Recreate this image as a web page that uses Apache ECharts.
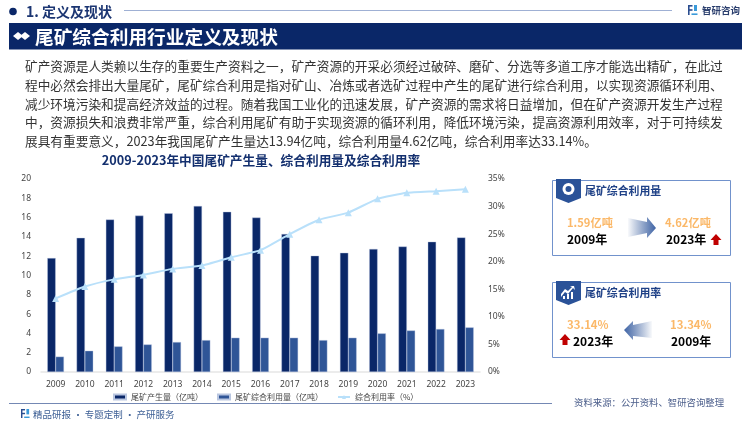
<!DOCTYPE html>
<html><head><meta charset="utf-8">
<style>html,body{margin:0;padding:0;background:#fff}#c{width:750px;height:421px}</style>
<script src="https://cdn.jsdelivr.net/npm/echarts@6/dist/echarts.min.js"></script>
</head><body><div id="c"></div>
<script>
const years=['2009','2010','2011','2012','2013','2014','2015','2016','2017','2018','2019','2020','2021','2022','2023'];
const output=[11.8,13.9,15.8,16.2,16.45,17.2,16.6,16.0,14.3,12.05,12.35,12.75,13.0,13.5,13.94];
const used=[1.59,2.2,2.65,2.85,3.1,3.3,3.55,3.55,3.55,3.3,3.55,4.0,4.3,4.45,4.62];
const rate=[13.34,15.5,16.8,17.6,18.7,19.3,20.8,22.1,25.0,27.6,28.9,31.4,32.5,32.8,33.14];
const seriesNames=['尾矿产生量（亿吨）','尾矿综合利用量（亿吨）','综合利用率（%）'];
const paragraph=[
'矿产资源是人类赖以生存的重要生产资料之一，矿产资源的开采必须经过破碎、磨矿、分选等多道工序才能选出精矿，在此过',
'程中必然会排出大量尾矿，尾矿综合利用是指对矿山、冶炼或者选矿过程中产生的尾矿进行综合利用，以实现资源循环利用、',
'减少环境污染和提高经济效益的过程。随着我国工业化的迅速发展，矿产资源的需求将日益增加，但在矿产资源开发生产过程',
'中，资源损失和浪费非常严重，综合利用尾矿有助于实现资源的循环利用，降低环境污染，提高资源利用效率，对于可持续发',
'展具有重要意义，2023年我国尾矿产生量达13.94亿吨，综合利用量4.62亿吨，综合利用率达33.14%。'];
const FF='"Noto Sans CJK SC","Noto Sans",sans-serif';
const NAVY='#0a2768';
function T(text,x,y,size,fill,bold,align){return {type:'text',silent:true,style:{text,x,y,fill,font:(bold?'bold ':'')+size+'px '+FF,textVerticalAlign:'middle',textAlign:align||'left'}};}
function R(x,y,w,h,fill,stroke){return {type:'rect',silent:true,shape:{x,y,width:w,height:h},style:{fill:fill||'none',stroke:stroke||null,lineWidth:stroke?1:0}};}
function P(points,fill){return {type:'polygon',silent:true,shape:{points},style:{fill}};}
function L(x1,y1,x2,y2,stroke,w){return {type:'line',silent:true,shape:{x1,y1,x2,y2},style:{stroke,lineWidth:w||1}};}
function logo(x,y,s){return [R(x,y,s*0.45,s*0.16,'#2a4d8f'),R(x,y,s*0.16,s,'#2a4d8f'),R(x,y+s*0.42,s*0.45,s*0.16,'#2a4d8f'),R(x+s*0.6,y,s*0.3,s*0.6,'#3a9ad9'),R(x+s*0.35,y+s*0.84,s*0.6,s*0.16,'#3a9ad9')];}
function grad(dir){return {type:'linear',x:dir>0?0:1,y:0,x2:dir>0?1:0,y2:0,colorStops:[{offset:0,color:'rgba(47,85,151,0.03)'},{offset:1,color:'#3f64a6'}]};}
function badge(x,y){return P([[x,y],[x+25,y],[x+25,y+19],[x+12.5,y+24],[x,y+19]],'#2a5298');}
function redUp(x,y){return P([[x+5,y],[x+10.5,y+6],[x+7.5,y+6],[x+7.5,y+11],[x+2.5,y+11],[x+2.5,y+6],[x-0.5,y+6]],'#c00000');}

const g=[
 {type:'circle',silent:true,shape:{cx:13,cy:11.5,r:3.8},style:{fill:NAVY}},
 T('1. 定义及现状',26,11.5,14,'#1b3572',true),
 L(124,10.5,672,10.5,'#9fb0d4',1.2),
 ...logo(688,5,10),
 T('智研咨询',702,10.5,9.5,'#2b3f6e',true),
 R(9,23,733,26.5,NAVY),
 P([[13,36],[18,32],[23,36],[18,40]],'#fff'),P([[20,36],[25,32],[30,36],[25,40]],'#fff'),
 T('尾矿综合利用行业定义及现状',35,36.5,18.7,'#fff',true),
 T('2009-2023年中国尾矿产生量、综合利用量及综合利用率',261,160,12.7,'#14306f',true,'center'),
 L(9,403.5,552,403.5,'#7488b4',1),
 ...logo(21,409,9),
 T('精品研报 · 专题定制 · 产研服务',33,414,9.5,'#3d5f95',false),
 T('资料来源：公开资料、智研咨询整理',574,402.5,9.4,'#4a5d8a',false),
 // card 1
 R(552.5,180.5,178,75,'#fff','#7192cc'),
 badge(556,179),
 {type:'circle',silent:true,shape:{cx:568.5,cy:189,r:6},style:{fill:'#fff'}},
 {type:'circle',silent:true,shape:{cx:568.5,cy:189,r:3},style:{fill:'#2a5298'}},
 T('尾矿综合利用量',585,190.5,10.9,'#1f4187',true),
 T('1.59亿吨',567,222.5,11.2,'#fbb868',true),
 T('2009年',567,239,12,'#000',true),
 P([[628,218],[647,222],[647,217],[656,228],[647,238],[647,233],[628,237]],grad(1)),
 T('4.62亿吨',665,222.5,11.2,'#fbb868',true),
 T('2023年',666,239,12,'#000',true),
 redUp(711,234),
 // card 2
 R(552.5,282.5,178,75,'#fff','#7192cc'),
 badge(556,281),
 P([[561,297],[565,292],[568,294],[573,288],[575,290],[574,286],[570,286],[572,287],[568,291],[565,289],[561,294]],'#fff'),
 R(563,296,2,3,'#fff'),R(567,294,2,5,'#fff'),R(571,292,2,7,'#fff'),
 T('尾矿综合利用率',585,292.5,10.9,'#1f4187',true),
 T('33.14%',567,325,11.4,'#fbb868',true),
 redUp(560,334),
 T('2023年',573,341,12,'#000',true),
 P([[652,321],[633,325],[633,321],[624,330],[633,340],[633,336],[652,338]],grad(-1)),
 T('13.34%',670,325,11.4,'#fbb868',true),
 T('2009年',671,341,12,'#000',true)
];
paragraph.forEach((s,i)=>g.push(T(s,25,66.5+i*18.6,12.7,'#333',false)));

const chart=echarts.init(document.getElementById('c'));
const axLabel={fontSize:8.5,color:'#444',fontFamily:'"Noto Sans",sans-serif'};
chart.setOption({
 animation:false,
 graphic:{elements:g},
 grid:{left:41,right:270,top:179,height:193},
 legend:{left:108,top:388,itemWidth:12,itemHeight:5,itemGap:14,
   textStyle:{fontSize:8,color:'#444',fontFamily:FF},
   data:[{name:seriesNames[0],icon:'rect'},{name:seriesNames[1],icon:'rect'},{name:seriesNames[2]}]},
 xAxis:{type:'category',data:years,axisTick:{show:false},
   axisLine:{lineStyle:{color:'#e6e6e6',width:1.5}},axisLabel:{...axLabel,margin:8,interval:0}},
 yAxis:[
  {type:'value',min:0,max:20,interval:2,splitLine:{show:false},axisLine:{show:false},axisTick:{show:false},axisLabel:{...axLabel,margin:10}},
  {type:'value',min:0,max:35,interval:5,splitLine:{show:false},axisLine:{show:false},axisTick:{show:false},axisLabel:{...axLabel,margin:8,formatter:'{value}%'}}
 ],
 series:[
  {name:seriesNames[0],type:'bar',data:output,barWidth:8.3,barGap:0,itemStyle:{color:NAVY,borderColor:'#b9c6e0',borderWidth:0.4}},
  {name:seriesNames[1],type:'bar',data:used,barWidth:8.3,barGap:0,itemStyle:{color:'#2f5597',borderColor:'#b9c6e0',borderWidth:0.4}},
  {name:seriesNames[2],type:'line',yAxisIndex:1,data:rate,symbol:'triangle',symbolSize:7,smooth:0.15,
    lineStyle:{color:'#b9e0fa',width:2},itemStyle:{color:'#b9e0fa'},z:5}
 ]
});
</script></body></html>
